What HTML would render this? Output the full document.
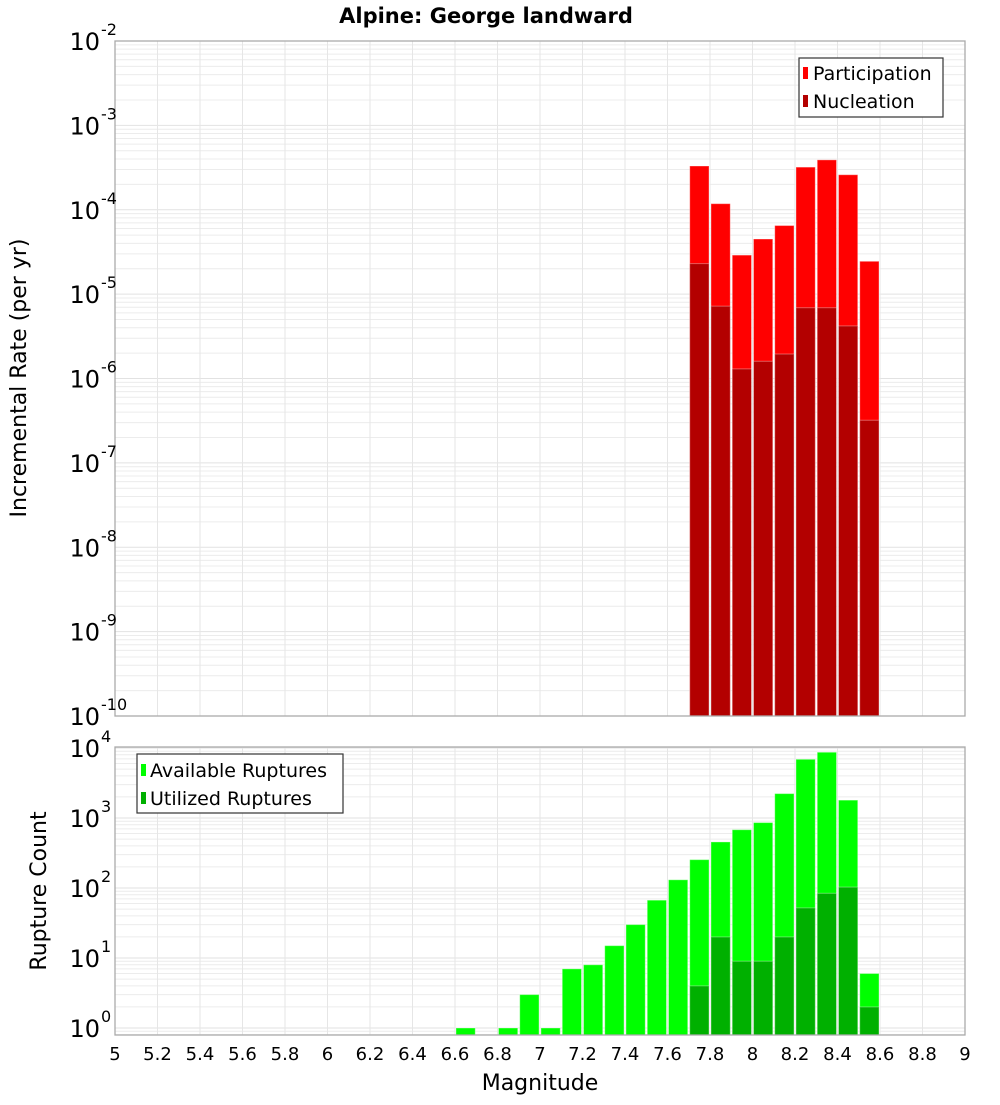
<!DOCTYPE html>
<html><head><meta charset="utf-8"><style>
html,body{margin:0;padding:0;background:#fff;}
svg text{font-family:"DejaVu Sans","Liberation Sans",sans-serif;}
</style></head><body>
<svg id="chart" width="1000" height="1100" xmlns="http://www.w3.org/2000/svg">
<text x="486" y="23" text-anchor="middle" font-size="21" font-weight="bold">Alpine: George landward</text>
<g id="gtop"></g>
<g id="gbot"></g>
<text transform="translate(26,378) rotate(-90)" text-anchor="middle" font-size="22">Incremental Rate (per yr)</text>
<text transform="translate(46,891) rotate(-90)" text-anchor="middle" font-size="22">Rupture Count</text>
<text x="540" y="1090" text-anchor="middle" font-size="22">Magnitude</text>
<g id="legtop">
<rect x="799" y="58" width="144" height="59" fill="#fff" stroke="#333" stroke-width="1.2"/>
<rect x="803" y="67" width="5" height="12" fill="#ff0000"/>
<text x="813" y="80" font-size="19">Participation</text>
<rect x="803" y="95" width="5" height="12" fill="#b30000"/>
<text x="813" y="108" font-size="19">Nucleation</text>
</g>
<g id="legbot">
<rect x="137" y="754" width="206" height="59" fill="#fff" stroke="#333" stroke-width="1.2"/>
<rect x="141" y="764" width="5" height="12" fill="#00ff00"/>
<text x="150" y="777" font-size="19">Available Ruptures</text>
<rect x="141" y="792" width="5" height="12" fill="#00b000"/>
<text x="150" y="805" font-size="19">Utilized Ruptures</text>
</g>
</svg>
<script>
const rateMags = [7.75,7.85,7.95,8.05,8.15,8.25,8.35,8.45,8.55];
const participation = [3.3e-4,1.18e-4,2.9e-5,4.5e-5,6.5e-5,3.2e-4,3.9e-4,2.6e-4,2.45e-5];
const nucleation = [2.3e-5,7.2e-6,1.3e-6,1.6e-6,1.95e-6,6.9e-6,6.9e-6,4.2e-6,3.2e-7];
const countMags = [6.65,6.85,6.95,7.05,7.15,7.25,7.35,7.45,7.55,7.65,7.75,7.85,7.95,8.05,8.15,8.25,8.35,8.45,8.55];
const available = [1,1,3,1,7,8,15,30,67,131,254,455,680,860,2230,6900,8700,1800,6];
const utilizedMags = [7.75,7.85,7.95,8.05,8.15,8.25,8.35,8.45,8.55];
const utilized = [4,20,9,9,20,52,84,103,2];
const xTicks = [5,5.2,5.4,5.6,5.8,6,6.2,6.4,6.6,6.8,7,7.2,7.4,7.6,7.8,8,8.2,8.4,8.6,8.8,9];
const topExps = [-2,-3,-4,-5,-6,-7,-8,-9,-10];
const botExps = [0,1,2,3,4];

const NS="http://www.w3.org/2000/svg";
const X0=115,X1=965;
function xs(m){return X0+(m-5)/4*(X1-X0);}
function topY(v){return 41+(-2-Math.log10(v))*84.375;}
function botY(v){return 1028-Math.log10(v)*70;}
function mk(p,t,a){const e=document.createElementNS(NS,t);for(const k in a)e.setAttribute(k,a[k]);p.appendChild(e);return e;}

function frame(g,y0,y1,yf,lo,hi){
  for(let d=lo;d<hi;d++)for(let k=1;k<10;k++){
    const y=yf(k*Math.pow(10,d));if(y<y0||y>y1)continue;
    const l=mk(g,'line',{x1:X0,x2:X1,y1:y,y2:y,stroke:k==1?'#e2e2e2':'#ececec','stroke-width':1});
    
    
  }
  xTicks.forEach(t=>{const x=xs(t);const l=mk(g,'line',{x1:x,x2:x,y1:y0,y2:y1,stroke:'#e6e6e6'});
    
    });
}
function border(g,y0,y1){const r=mk(g,'rect',{x:X0,y:y0,width:X1-X0,height:y1-y0,fill:'none',stroke:'#aaa','stroke-width':1.3});
  
  }
function bars(g,mags,vals,yf,base,color,name){
  mags.forEach((m,i)=>{const xa=xs(m-0.05)+1,xb=xs(m+0.05)-1;const y=yf(vals[i]);
    const r=mk(g,'rect',{x:xa,y:y,width:xb-xa,height:base-y,fill:color,stroke:'#ffffff','stroke-opacity':0.35,'stroke-width':1});
    
    });
}
function ylabels(g,exps,yf){
  exps.forEach(e=>{const y=yf(Math.pow(10,e));
    const t=mk(g,'text',{x:100,y:y+9,'text-anchor':'end','font-size':24});t.textContent='10';
    
    
    const s=mk(g,'text',{x:101,y:y-6,'font-size':16});s.textContent=String(e);
    
    });
}
const gTop=document.getElementById('gtop'),gBot=document.getElementById('gbot');
frame(gTop,41,716,topY,-10,-2);
bars(gTop,rateMags,participation,topY,716,'#ff0000','participation-bar');
bars(gTop,rateMags,nucleation,topY,716,'#b30000','nucleation-bar');
border(gTop,41,716);
ylabels(gTop,topExps,topY);
frame(gBot,747,1035,botY,-1,5);
bars(gBot,countMags,available,botY,1035,'#00ff00','available-bar');
bars(gBot,utilizedMags,utilized,botY,1035,'#00b000','utilized-bar');
border(gBot,747,1035);
ylabels(gBot,botExps,botY);
xTicks.forEach(t=>{const tx=mk(gBot,'text',{x:xs(t),y:1060,'text-anchor':'middle','font-size':18});tx.textContent=String(t);
  
  });
const svg=document.getElementById('chart');
svg.appendChild(document.getElementById('legtop'));
svg.appendChild(document.getElementById('legbot'));
</script>
</body></html>
